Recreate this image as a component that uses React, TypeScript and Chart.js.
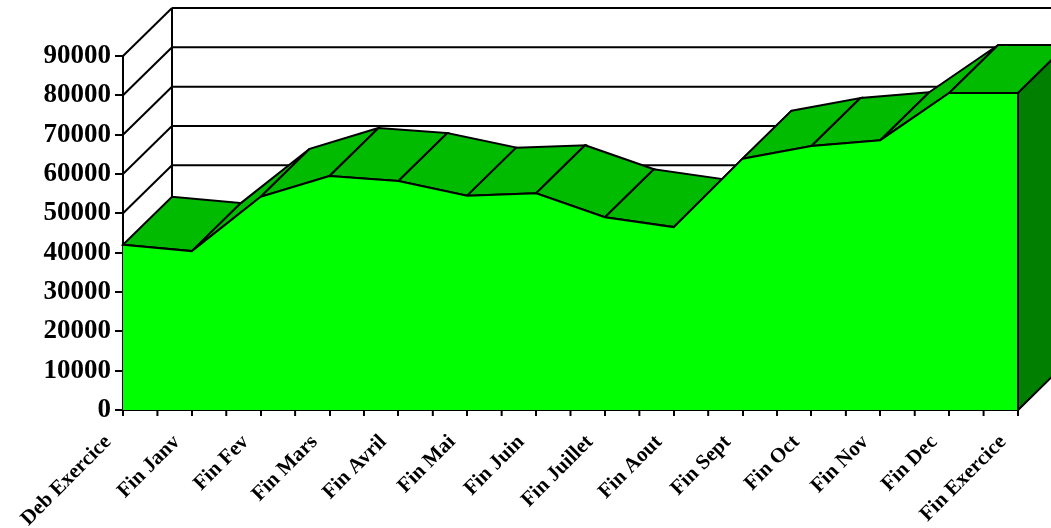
import React, { useEffect, useRef } from "react";
import { Chart, registerables } from "chart.js";

Chart.register(...registerables);

const categories = [
  "Deb Exercice",
  "Fin Janv",
  "Fin Fev",
  "Fin Mars",
  "Fin Avril",
  "Fin Mai",
  "Fin Juin",
  "Fin Juillet",
  "Fin Aout",
  "Fin Sept",
  "Fin Oct",
  "Fin Nov",
  "Fin Dec",
  "Fin Exercice",
];

const values = [
  42000, 40400, 54200, 59500, 58200, 54500, 55100, 49000, 46500, 63900, 67100,
  68600, 80600, 80600,
];

const yTickValues = [0, 10000, 20000, 30000, 40000, 50000, 60000, 70000, 80000, 90000];

const DEPTH_X = 49;
const DEPTH_Y = 48;
const FRONT_COLOR = "#00ff00";
const TOP_COLOR = "#00bb00";
const SIDE_COLOR = "#007f00";
const FONT_FAMILY = "'Liberation Serif', 'Times New Roman', serif";

const threeDPlugin = {
  id: "threeD",
  beforeDatasetsDraw(chart: any) {
    const { ctx, chartArea, scales } = chart;
    const { left, right, top, bottom } = chartArea;
    const x = scales.x;
    const y = scales.y;
    ctx.save();
    ctx.lineWidth = 2;
    ctx.strokeStyle = "#000";
    ctx.lineJoin = "miter";

    // back wall
    ctx.fillStyle = "#ffffff";
    ctx.fillRect(left + DEPTH_X, top - DEPTH_Y, right - left, bottom - top);

    // back wall grid lines and left wall diagonals
    for (const v of yTickValues) {
      const yy = y.getPixelForValue(v);
      ctx.beginPath();
      ctx.moveTo(left + DEPTH_X, yy - DEPTH_Y);
      ctx.lineTo(right + DEPTH_X, yy - DEPTH_Y);
      ctx.stroke();
      ctx.beginPath();
      ctx.moveTo(left, yy);
      ctx.lineTo(left + DEPTH_X, yy - DEPTH_Y);
      ctx.stroke();
    }
    ctx.beginPath();
    ctx.moveTo(left + DEPTH_X, top - DEPTH_Y);
    ctx.lineTo(left + DEPTH_X, bottom - DEPTH_Y);
    ctx.stroke();

    // top faces
    const pts = values.map((v, i) => ({
      px: x.getPixelForValue(i),
      py: y.getPixelForValue(v),
    }));
    for (let i = 0; i < pts.length - 1; i++) {
      const a = pts[i];
      const b = pts[i + 1];
      ctx.beginPath();
      ctx.moveTo(a.px, a.py);
      ctx.lineTo(b.px, b.py);
      ctx.lineTo(b.px + DEPTH_X, b.py - DEPTH_Y);
      ctx.lineTo(a.px + DEPTH_X, a.py - DEPTH_Y);
      ctx.closePath();
      ctx.fillStyle = TOP_COLOR;
      ctx.fill();
      ctx.stroke();
    }

    // right side face
    const last = pts[pts.length - 1];
    const y0 = y.getPixelForValue(0);
    ctx.beginPath();
    ctx.moveTo(last.px, last.py);
    ctx.lineTo(last.px + DEPTH_X, last.py - DEPTH_Y);
    ctx.lineTo(last.px + DEPTH_X, y0 - DEPTH_Y);
    ctx.lineTo(last.px, y0);
    ctx.closePath();
    ctx.fillStyle = SIDE_COLOR;
    ctx.fill();
    ctx.stroke();
    ctx.restore();
  },
  afterDraw(chart: any) {
    const { ctx, chartArea, scales } = chart;
    const { bottom } = chartArea;
    const x = scales.x;
    const y = scales.y;
    ctx.save();
    ctx.lineWidth = 2;
    ctx.strokeStyle = "#000";
    // right vertical edge of the front face
    const lastIdx = values.length - 1;
    const lx = x.getPixelForValue(lastIdx);
    ctx.beginPath();
    ctx.moveTo(lx, y.getPixelForValue(values[lastIdx]));
    ctx.lineTo(lx, y.getPixelForValue(0));
    ctx.stroke();
    // intermediate tick marks
    for (let i = 0; i < values.length - 1; i++) {
      const mx = (x.getPixelForValue(i) + x.getPixelForValue(i + 1)) / 2;
      ctx.beginPath();
      ctx.moveTo(mx, bottom);
      ctx.lineTo(mx, bottom + 6);
      ctx.stroke();
    }
    ctx.restore();
  },
};

export default function App() {
  const canvasRef = useRef<HTMLCanvasElement | null>(null);

  useEffect(() => {
    const canvas = canvasRef.current;
    if (!canvas) return;
    Chart.defaults.font.family = FONT_FAMILY;
    const chart = new Chart(canvas, {
      type: "line",
      data: {
        labels: categories,
        datasets: [
          {
            data: values,
            fill: "origin",
            backgroundColor: FRONT_COLOR,
            borderColor: "#000",
            borderWidth: 2,
            pointRadius: 0,
            tension: 0,
          },
        ],
      },
      options: {
        animation: false,
        responsive: false,
        layout: { padding: { top: 56, right: 33, left: 0, bottom: 0 } },
        plugins: {
          legend: { display: false },
          tooltip: { enabled: false },
        },
        scales: {
          x: {
            type: "category",
            offset: false,
            z: 1,
            grid: {
              display: true,
              drawOnChartArea: false,
              drawTicks: true,
              tickLength: 6,
              color: "#000",
              lineWidth: 2,
            },
            border: { display: true, color: "#000", width: 2 },
            ticks: {
              autoSkip: false,
              maxRotation: 45,
              minRotation: 45,
              color: "#000",
              padding: 14,
              labelOffset: -15,
              font: { size: 21, weight: "bold", family: FONT_FAMILY },
            },
            afterFit(scale: any) {
              scale.height = 118;
            },
          },
          y: {
            min: 0,
            max: 90000,
            z: 1,
            ticks: {
              stepSize: 10000,
              color: "#000",
              padding: 4,
              font: { size: 27, weight: "bold", family: FONT_FAMILY },
              callback: (value: any) => String(value),
            },
            grid: {
              display: true,
              drawOnChartArea: false,
              drawTicks: true,
              tickLength: 8,
              color: "#000",
              lineWidth: 2,
            },
            border: { display: true, color: "#000", width: 2 },
            afterFit(scale: any) {
              scale.width = 123;
            },
          },
        },
      },
      plugins: [threeDPlugin],
    });
    return () => chart.destroy();
  }, []);

  return (
    <canvas
      ref={canvasRef}
      width={1051}
      height={528}
      style={{ position: "fixed", left: 0, top: 0, display: "block", width: 1051, height: 528 }}
    />
  );
}
